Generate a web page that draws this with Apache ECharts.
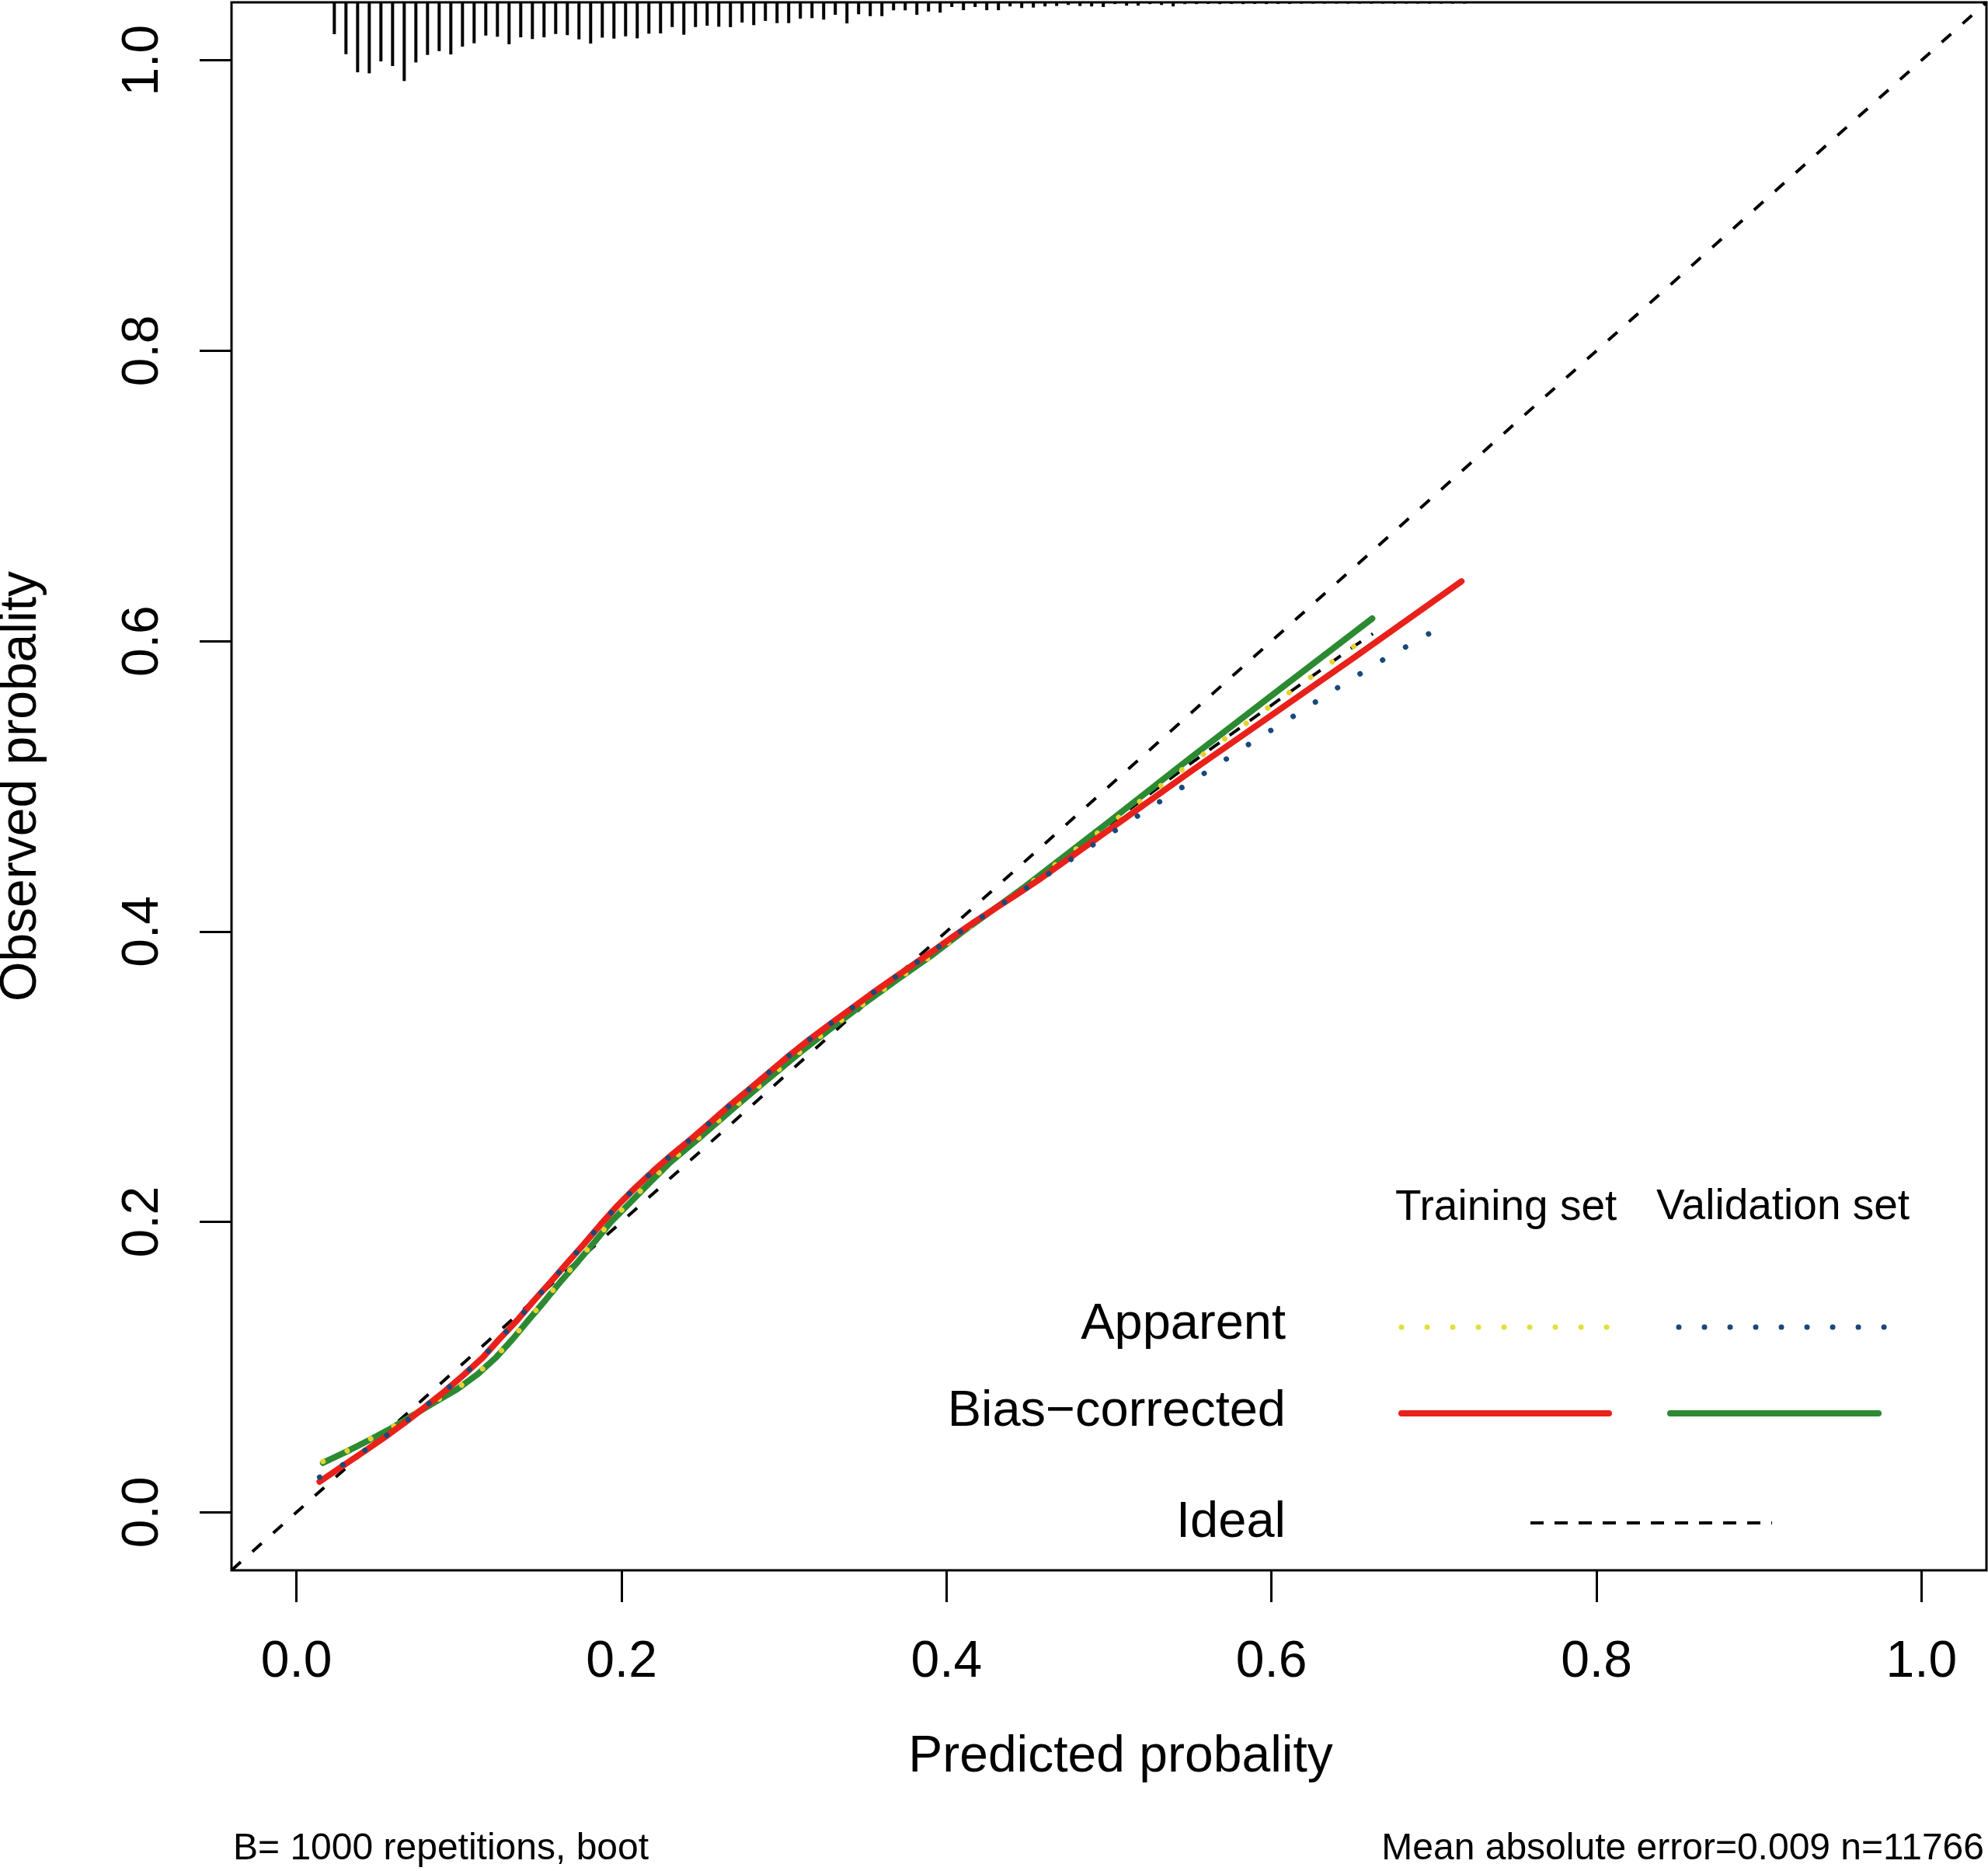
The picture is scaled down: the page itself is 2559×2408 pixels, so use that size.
<!DOCTYPE html>
<html>
<head>
<meta charset="utf-8" />
<title>Calibration curve</title>
<script src="https://cdn.jsdelivr.net/npm/echarts@6/dist/echarts.min.js"></script>
<style>
  html, body { margin: 0; padding: 0; background: #ffffff; }
  #calib { width: 2559px; height: 2408px; }
</style>
</head>
<body>
<div id="calib"></div>
<script>
// tick values, both axes
var axisTicks = [0, 0.2, 0.4, 0.6, 0.8, 1.0];

// ideal line, corner to corner of the plot region
var ideal = [[-0.04, -0.04], [1.04, 1.04]];

// training set, apparent (yellow dotted, black dashed under it)
var trainApparent = [
  [0.0163, 0.0350], [0.0309, 0.0421], [0.0449, 0.0502], [0.0583, 0.0582], [0.0716, 0.0675],
  [0.0850, 0.0762], [0.0988, 0.0853], [0.1114, 0.0956], [0.1227, 0.1071], [0.1332, 0.1201],
  [0.1432, 0.1335], [0.1533, 0.1468], [0.1631, 0.1602], [0.1735, 0.1736], [0.1836, 0.1870],
  [0.1936, 0.2007], [0.2044, 0.2129], [0.2153, 0.2254], [0.2300, 0.2415], [0.2500, 0.2602],
  [0.2700, 0.2796], [0.2900, 0.2985], [0.3100, 0.3172], [0.3300, 0.3345], [0.3500, 0.3510],
  [0.3700, 0.3672], [0.3900, 0.3826], [0.4105, 0.4003], [0.4356, 0.4200], [0.4484, 0.4304],
  [0.4800, 0.4570], [0.5100, 0.4820], [0.5482, 0.5141], [0.5736, 0.5346], [0.5989, 0.5550],
  [0.6241, 0.5751], [0.6498, 0.5957], [0.6624, 0.6051]
];

// training set, bias-corrected (red)
var trainBiasCorrected = [
  [0.0142, 0.0210], [0.0282, 0.0317], [0.0413, 0.0416], [0.0540, 0.0514], [0.0666, 0.0617],
  [0.0790, 0.0724], [0.0912, 0.0833], [0.1029, 0.0946], [0.1146, 0.1065], [0.1248, 0.1192],
  [0.1358, 0.1322], [0.1459, 0.1455], [0.1563, 0.1585], [0.1664, 0.1715], [0.1770, 0.1848],
  [0.1870, 0.1980], [0.1974, 0.2110], [0.2085, 0.2235], [0.2198, 0.2353], [0.2316, 0.2468],
  [0.2437, 0.2579], [0.2555, 0.2693], [0.2672, 0.2808], [0.2792, 0.2919], [0.2911, 0.3032],
  [0.3031, 0.3145], [0.3154, 0.3254], [0.3279, 0.3359], [0.3405, 0.3462], [0.3531, 0.3565],
  [0.3657, 0.3665], [0.3785, 0.3764], [0.3917, 0.3866], [0.4040, 0.3964], [0.4170, 0.4064],
  [0.4301, 0.4160], [0.4433, 0.4255], [0.4562, 0.4351], [0.5000, 0.4700], [0.5500, 0.5100],
  [0.6000, 0.5490], [0.6500, 0.5880], [0.7169, 0.6412]
];

// validation set, apparent (blue dotted)
var validApparent = [
  [0.0142, 0.0241], [0.0282, 0.0325], [0.0413, 0.0420], [0.0540, 0.0517], [0.0666, 0.0620],
  [0.0790, 0.0727], [0.0912, 0.0836], [0.1029, 0.0948], [0.1146, 0.1067], [0.1248, 0.1193],
  [0.1358, 0.1322], [0.1459, 0.1455], [0.1563, 0.1585], [0.1664, 0.1715], [0.1770, 0.1848],
  [0.1870, 0.1980], [0.1974, 0.2110], [0.2085, 0.2235], [0.2198, 0.2353], [0.2316, 0.2468],
  [0.2437, 0.2579], [0.2555, 0.2693], [0.2672, 0.2808], [0.2792, 0.2919], [0.2911, 0.3032],
  [0.3031, 0.3145], [0.3154, 0.3254], [0.3279, 0.3359], [0.3405, 0.3462], [0.3531, 0.3565],
  [0.3657, 0.3665], [0.3785, 0.3764], [0.3917, 0.3866], [0.4040, 0.3964], [0.4170, 0.4064],
  [0.4301, 0.4160], [0.4433, 0.4255], [0.4562, 0.4351], [0.4696, 0.4443], [0.4824, 0.4541],
  [0.5087, 0.4731], [0.5349, 0.4921], [0.5614, 0.5109], [0.5875, 0.5300], [0.6141, 0.5487],
  [0.6401, 0.5675], [0.6666, 0.5858], [0.6940, 0.6033], [0.7077, 0.6117]
];

// validation set, bias-corrected (green)
var validBiasCorrected = [
  [0.0163, 0.0340], [0.0309, 0.0418], [0.0449, 0.0498], [0.0583, 0.0578], [0.0716, 0.0668],
  [0.0850, 0.0757], [0.0988, 0.0847], [0.1114, 0.0950], [0.1227, 0.1065], [0.1332, 0.1195],
  [0.1432, 0.1329], [0.1533, 0.1462], [0.1631, 0.1596], [0.1735, 0.1730], [0.1836, 0.1864],
  [0.1936, 0.2000], [0.2044, 0.2122], [0.2153, 0.2247], [0.2300, 0.2410], [0.2500, 0.2598],
  [0.2700, 0.2792], [0.2900, 0.2982], [0.3100, 0.3168], [0.3300, 0.3342], [0.3500, 0.3510],
  [0.3700, 0.3672], [0.3900, 0.3828], [0.4105, 0.4003], [0.4356, 0.4205], [0.4484, 0.4310],
  [0.5000, 0.4756], [0.5500, 0.5195], [0.6000, 0.5625], [0.6620, 0.6156]
];

// distribution of predicted risk, spikes hanging from the top (100 bins)
var spikeStart = 0.0161;
var spikeStep = 0.00717;
var spikeHeights = [
  0.0005, 0.0219, 0.0357, 0.0482, 0.0489, 0.0407, 0.0439, 0.0542, 0.0414, 0.0362,
  0.0336, 0.0359, 0.0305, 0.0282, 0.0229, 0.0237, 0.0289, 0.0241, 0.0253, 0.0241,
  0.0218, 0.0226, 0.0255, 0.0284, 0.0243, 0.0250, 0.0234, 0.0248, 0.0216, 0.0214,
  0.0170, 0.0223, 0.0170, 0.0161, 0.0168, 0.0171, 0.0139, 0.0157, 0.0128, 0.0143,
  0.0143, 0.0112, 0.0109, 0.0119, 0.0086, 0.0145, 0.0082, 0.0095, 0.0095, 0.0055,
  0.0055, 0.0086, 0.0063, 0.0071, 0.0032, 0.0054, 0.0032, 0.0054, 0.0054, 0.0028,
  0.0039, 0.0036, 0.0028, 0.0025, 0.0018, 0.0025, 0.0028, 0.0032, 0.0012, 0.0023,
  0.0023, 0.0012, 0.0018, 0.0028, 0.0012, 0.0012, 0.0011, 0.0012, 0.0011, 0.0012,
  0.0011, 0.0012, 0.0011, 0.0011, 0.0009, 0.0009, 0.0009, 0.0009, 0.0009, 0.0009,
  0.0009, 0.0009, 0.0009, 0.0009, 0.0009, 0.0009, 0.0009, 0.0009, 0.0009
];

var FONT = "Liberation Sans";
var RED = "#e8211b";
var GREEN = "#2b8a32";
var BLUE = "#19497a";
var YELLOW = "#e4d234";

var chart = echarts.init(document.getElementById("calib"));

var spikeData = spikeHeights.map(function (h, i) {
  return [spikeStart + i * spikeStep, h];
});

function lineSeries(name, data, color, width, dash, cap) {
  return {
    name: name,
    type: "line",
    data: data,
    symbol: "none",
    showSymbol: false,
    smooth: false,
    silent: true,
    lineStyle: { color: color, width: width, type: dash, cap: cap || "butt" }
  };
}

var option = {
  animation: false,
  backgroundColor: "#ffffff",
  textStyle: { fontFamily: FONT },
  grid: {
    left: 298, right: 2, top: 3, bottom: 387,
    containLabel: false, outerBoundsMode: "none",
    show: true, borderColor: "#000", borderWidth: 3, backgroundColor: "transparent"
  },
  xAxis: {
    type: "value",
    min: -0.04,
    max: 1.04,
    name: "Predicted probality",
    nameLocation: "middle",
    nameGap: 208,
    nameTextStyle: { fontSize: 66, color: "#000", fontFamily: FONT, padding: [0, 0, 0, 30] },
    splitLine: { show: false },
    axisLine: { show: false, onZero: false },
    axisTick: {
      show: true, inside: false, length: 41, customValues: axisTicks,
      lineStyle: { color: "#000", width: 3 }
    },
    axisLabel: {
      customValues: axisTicks, fontSize: 66, color: "#000", fontFamily: FONT, margin: 86,
      formatter: function (v) { return v.toFixed(1); }
    }
  },
  yAxis: {
    type: "value",
    min: -0.04,
    max: 1.04,
    name: "Observed probality",
    nameLocation: "middle",
    nameGap: 237,
    nameTextStyle: { fontSize: 66, color: "#000", fontFamily: FONT },
    splitLine: { show: false },
    axisLine: { show: false, onZero: false },
    axisTick: {
      show: true, inside: false, length: 41, customValues: axisTicks,
      lineStyle: { color: "#000", width: 3 }
    },
    axisLabel: {
      customValues: axisTicks, fontSize: 66, color: "#000", fontFamily: FONT, margin: 80, rotate: 90,
      formatter: function (v) { return v.toFixed(1); }
    }
  },
  series: [
    lineSeries("Ideal", ideal, "#000", 4, [16, 20]),
    lineSeries("Apparent (line)", trainApparent, "#000", 4, [16, 16]),
    lineSeries("Bias-corrected validation", validBiasCorrected, GREEN, 8, "solid", "round"),
    lineSeries("Apparent training", trainApparent, YELLOW, 7, [0.01, 34], "round"),
    lineSeries("Bias-corrected training", trainBiasCorrected, RED, 8, "solid", "round"),
    lineSeries("Apparent validation", validApparent, BLUE, 7, [0.01, 34], "round"),
    {
      name: "Risk distribution",
      type: "custom",
      silent: true,
      data: spikeData,
      renderItem: function (params, api) {
        var x = api.value(0);
        var h = api.value(1);
        var p1 = api.coord([x, 1.04]);
        var p2 = api.coord([x, 1.04 - h]);
        return {
          type: "line",
          shape: { x1: p1[0], y1: p1[1], x2: p2[0], y2: p2[1] },
          style: { stroke: "#000", lineWidth: 4 }
        };
      }
    }
  ],
  graphic: [
    // legend
    { type: "text", x: 1796, y: 1555, style: { text: "Training set", fontSize: 55, fontFamily: FONT, fill: "#000", align: "left", verticalAlign: "middle" } },
    { type: "text", x: 2132, y: 1554, style: { text: "Validation set", fontSize: 55, fontFamily: FONT, fill: "#000", align: "left", verticalAlign: "middle" } },
    { type: "text", x: 1655, y: 1705, style: { text: "Apparent", fontSize: 65, fontFamily: FONT, fill: "#000", align: "right", verticalAlign: "middle" } },
    { type: "text", x: 1655, y: 1817, style: { text: "Bias\u2212corrected", fontSize: 65, fontFamily: FONT, fill: "#000", align: "right", verticalAlign: "middle" } },
    { type: "text", x: 1655, y: 1960, style: { text: "Ideal", fontSize: 65, fontFamily: FONT, fill: "#000", align: "right", verticalAlign: "middle" } },
    { type: "line", shape: { x1: 1804, y1: 1708, x2: 2069, y2: 1708 }, style: { stroke: "#dfe03c", lineWidth: 7, lineDash: [0.01, 33], lineCap: "round" } },
    { type: "line", shape: { x1: 2161, y1: 1708, x2: 2426, y2: 1708 }, style: { stroke: BLUE, lineWidth: 7, lineDash: [0.01, 33], lineCap: "round" } },
    { type: "line", shape: { x1: 1804, y1: 1819, x2: 2071, y2: 1819 }, style: { stroke: RED, lineWidth: 8, lineCap: "round" } },
    { type: "line", shape: { x1: 2150, y1: 1819, x2: 2418, y2: 1819 }, style: { stroke: GREEN, lineWidth: 8, lineCap: "round" } },
    { type: "line", shape: { x1: 1970, y1: 1960, x2: 2281, y2: 1960 }, style: { stroke: "#000", lineWidth: 4, lineDash: [17, 14] } },
    // footnotes
    { type: "text", x: 300, y: 2380, style: { text: "B= 1000 repetitions, boot", fontSize: 48, fontFamily: FONT, fill: "#000", align: "left", verticalAlign: "middle" } },
    { type: "text", x: 2554, y: 2380, style: { text: "Mean absolute error=0.009 n=11766", fontSize: 48, fontFamily: FONT, fill: "#000", align: "right", verticalAlign: "middle" } }
  ]
};

chart.setOption(option);
</script>
</body>
</html>
